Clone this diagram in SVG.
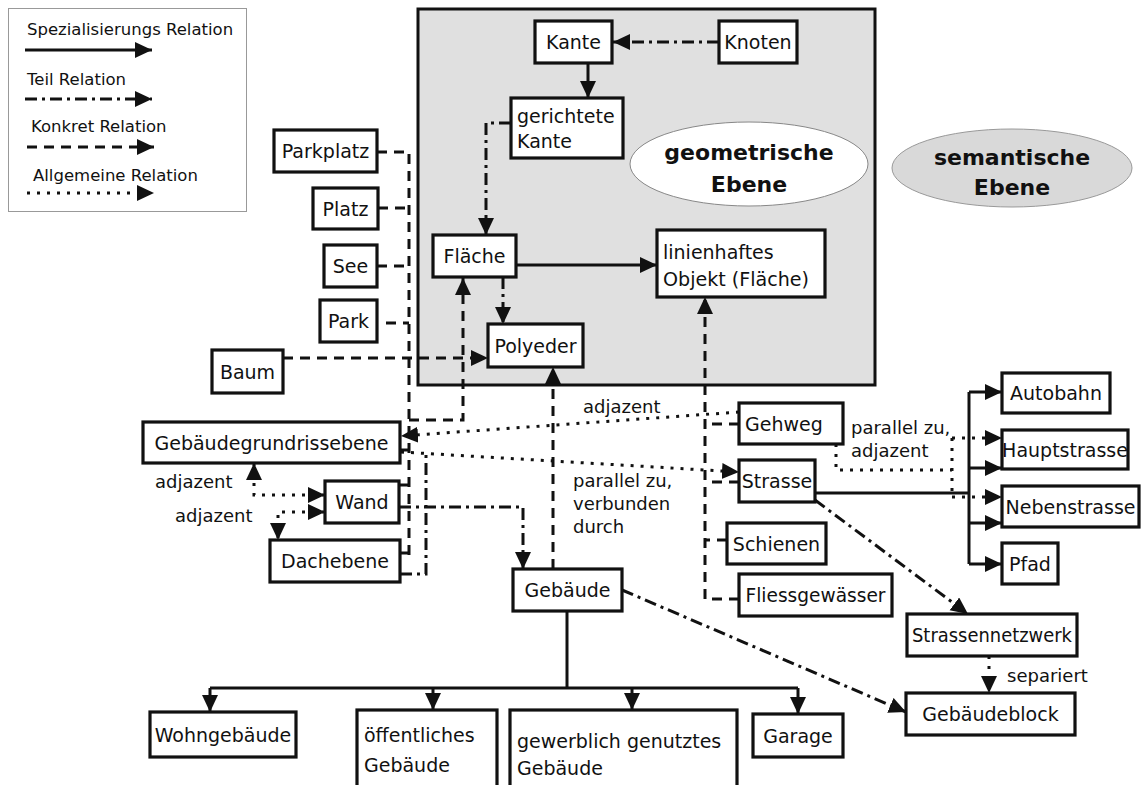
<svg xmlns="http://www.w3.org/2000/svg" width="1141" height="785" viewBox="0 0 1141 785">
  <defs>
    <marker id="ah" markerUnits="userSpaceOnUse" markerWidth="20" markerHeight="18" refX="17" refY="8" orient="auto-start-reverse" viewBox="0 0 20 18">
      <path d="M0,0 L17,8 L0,16 Z" fill="#111"/>
    </marker>
    <style>
      .n rect { fill: #fff; stroke: #111; stroke-width: 3.2; }
      .t { font-family: "DejaVu Sans", "Liberation Sans", sans-serif; font-size: 19px; fill: #111; }
      .lbl { font-family: "DejaVu Sans", "Liberation Sans", sans-serif; font-size: 18px; fill: #111; }
      .leg { font-family: "DejaVu Sans", "Liberation Sans", sans-serif; font-size: 16.5px; fill: #111; }
      .big { font-family: "DejaVu Sans", "Liberation Sans", sans-serif; font-size: 22px; font-weight: bold; fill: #111; text-anchor: middle; }
      .c { text-anchor: middle; }
      .ln { fill: none; stroke: #111; stroke-width: 3; }
      .teil { stroke-dasharray: 12 5 3 5; }
      .konkret { stroke-dasharray: 10 7; }
      .allg { stroke-dasharray: 3 7; }
      .arr { marker-end: url(#ah); }
    </style>
  </defs>

  <rect width="1141" height="785" fill="#fff"/>

  <!-- legend -->
  <g id="legend">
    <rect x="8.5" y="8.5" width="238" height="203" fill="#fff" stroke="#999" stroke-width="1"/>
    <text class="leg" x="27" y="35">Spezialisierungs Relation</text>
    <path class="ln arr" d="M25,50 H152"/>
    <text class="leg" x="27" y="85">Teil Relation</text>
    <path class="ln teil arr" d="M25,99 H152"/>
    <text class="leg" x="31" y="132">Konkret Relation</text>
    <path class="ln konkret arr" d="M27,147 H154"/>
    <text class="leg" x="33" y="181">Allgemeine Relation</text>
    <path class="ln allg arr" d="M27,193 H154"/>
  </g>

  <!-- geometric level frame -->
  <g id="geometrische-ebene">
    <rect x="418" y="9" width="457" height="376" fill="#e0e0e0" stroke="#111" stroke-width="3"/>
    <ellipse cx="749" cy="164" rx="119" ry="42" fill="#fff" stroke="#888" stroke-width="1"/>
    <text class="big" x="749" y="160">geometrische</text>
    <text class="big" x="749" y="192">Ebene</text>
  </g>

  <g id="semantische-ebene">
    <ellipse cx="1012" cy="168" rx="120" ry="39" fill="#d9d9d9" stroke="#999" stroke-width="1"/>
    <text class="big" x="1012" y="165">semantische</text>
    <text class="big" x="1012" y="195">Ebene</text>
  </g>

  <!-- connectors -->
  <g id="connectors">
    <!-- inside the geometric level -->
    <path class="ln teil arr" d="M719,42 H613"/>
    <path class="ln arr" d="M588,63 V98"/>
    <path class="ln teil arr" d="M511,123 H486 V235"/>
    <path class="ln arr" d="M516,265 H657"/>
    <path class="ln teil arr" d="M503,277 V324"/>

    <!-- left concrete bus to Polyeder / Fläche -->
    <path class="ln konkret" d="M377,152 H409 V555"/>
    <path class="ln konkret" d="M378,208 H409"/>
    <path class="ln konkret" d="M377,266 H409"/>
    <path class="ln konkret" d="M386,323 H409"/>
    <path class="ln konkret arr" d="M283,358 H488"/>
    <path class="ln konkret" d="M400,450 H409"/>
    <path class="ln konkret" d="M399,485 H409"/>
    <path class="ln konkret" d="M400,553 H409"/>
    <path class="ln konkret arr" d="M409,420 H463 V278"/>

    <!-- part-of bus to Gebäude -->
    <path class="ln teil" d="M400,574 H426 V452"/>
    <path class="ln teil arr" d="M399,507 H523 V569"/>
    <path class="ln konkret arr" d="M553,569 V367"/>

    <!-- adjacency around Wand -->
    <path class="ln allg arr" style="marker-start:url(#ah)" d="M254,463 V495 H325"/>
    <path class="ln allg arr" style="marker-start:url(#ah)" d="M325,512 H278 V540"/>

    <!-- general relations to the street network -->
    <path class="ln allg arr" d="M739,412 L401,436"/>
    <path class="ln allg arr" d="M401,452 L739,472"/>

    <!-- concrete bus to linienhaftes Objekt -->
    <path class="ln konkret arr" d="M739,599 H705 V297"/>
    <path class="ln konkret" d="M739,424 H705"/>
    <path class="ln konkret" d="M739,482 H705"/>
    <path class="ln konkret" d="M727,540 H705"/>

    <!-- Gehweg parallel/adjacent -->
    <path class="ln allg" d="M836,444 V470 H952"/>
    <path class="ln allg" d="M952,438 V497"/>
    <path class="ln allg arr" d="M952,438 H1002"/>
    <path class="ln allg arr" d="M952,497 H1002"/>

    <!-- Strasse specialisation -->
    <path class="ln" d="M815,493 H969"/>
    <path class="ln" d="M969,392 V564"/>
    <path class="ln arr" d="M969,392 H1002"/>
    <path class="ln arr" d="M969,468 H1002"/>
    <path class="ln arr" d="M969,523 H1002"/>
    <path class="ln arr" d="M969,564 H1002"/>

    <path class="ln teil arr" d="M815,500 L968,614"/>
    <path class="ln allg arr" d="M989,656 V693"/>
    <path class="ln teil arr" d="M622,590 L906,712"/>

    <!-- Gebäude specialisation -->
    <path class="ln" d="M567,611 V688"/>
    <path class="ln" d="M210,688 H798"/>
    <path class="ln arr" d="M210,688 V712"/>
    <path class="ln arr" d="M433,688 V710"/>
    <path class="ln arr" d="M632,688 V710"/>
    <path class="ln arr" d="M798,688 V714"/>

    <!-- connector labels -->
    <text class="lbl" x="583" y="413">adjazent</text>
    <text class="lbl" x="573" y="487">parallel zu,</text>
    <text class="lbl" x="573" y="510">verbunden</text>
    <text class="lbl" x="573" y="533">durch</text>
    <text class="lbl" x="851" y="434">parallel zu,</text>
    <text class="lbl" x="851" y="457">adjazent</text>
    <text class="lbl" x="155" y="488">adjazent</text>
    <text class="lbl" x="175" y="522">adjazent</text>
    <text class="lbl" x="1007" y="682">separiert</text>
  </g>

  <!-- nodes -->
  <g id="kante" class="n"><rect x="535" y="21" width="77" height="42"/><text class="t c" x="573.5" y="49">Kante</text></g>
  <g id="knoten" class="n"><rect x="719" y="21" width="78" height="42"/><text class="t c" x="758" y="49">Knoten</text></g>
  <g id="gerichtete-kante" class="n"><rect x="511" y="98" width="112" height="60"/><text class="t" x="517" y="123">gerichtete</text><text class="t" x="517" y="148">Kante</text></g>
  <g id="flaeche" class="n"><rect x="433" y="235" width="83" height="42"/><text class="t c" x="474.5" y="263">Fläche</text></g>
  <g id="linienhaftes-objekt" class="n"><rect x="657" y="230" width="168" height="67"/><text class="t" x="663" y="259">linienhaftes</text><text class="t" x="663" y="286" textLength="146" lengthAdjust="spacingAndGlyphs">Objekt (Fläche)</text></g>
  <g id="polyeder" class="n"><rect x="488" y="324" width="95" height="43"/><text class="t c" x="535.5" y="352.5">Polyeder</text></g>

  <g id="parkplatz" class="n"><rect x="274" y="130" width="103" height="42"/><text class="t c" x="325.5" y="158">Parkplatz</text></g>
  <g id="platz" class="n"><rect x="313" y="188" width="65" height="41"/><text class="t c" x="345.5" y="215.5">Platz</text></g>
  <g id="see" class="n"><rect x="324" y="245" width="53" height="42"/><text class="t c" x="350.5" y="273">See</text></g>
  <g id="park" class="n"><rect x="320" y="300" width="57" height="42"/><text class="t c" x="348.5" y="328">Park</text></g>
  <g id="baum" class="n"><rect x="212" y="350" width="71" height="43"/><text class="t c" x="247.5" y="378.5">Baum</text></g>

  <g id="gebaeudegrundrissebene" class="n"><rect x="143" y="422" width="257" height="41"/><text class="t c" x="271.5" y="449.5">Gebäudegrundrissebene</text></g>
  <g id="wand" class="n"><rect x="325" y="481" width="74" height="42"/><text class="t c" x="362" y="509">Wand</text></g>
  <g id="dachebene" class="n"><rect x="270" y="540" width="130" height="42"/><text class="t c" x="335" y="568">Dachebene</text></g>
  <g id="gebaeude" class="n"><rect x="513" y="569" width="109" height="42"/><text class="t c" x="567.5" y="597">Gebäude</text></g>

  <g id="gehweg" class="n"><rect x="739" y="403" width="104" height="41"/><text class="t" x="745" y="430.5">Gehweg</text></g>
  <g id="strasse" class="n"><rect x="739" y="460" width="76" height="42"/><text class="t c" x="777" y="488">Strasse</text></g>
  <g id="schienen" class="n"><rect x="727" y="523" width="99" height="41"/><text class="t c" x="776.5" y="550.5">Schienen</text></g>
  <g id="fliessgewaesser" class="n"><rect x="739" y="574" width="153" height="42"/><text class="t c" x="815.5" y="602" textLength="140" lengthAdjust="spacingAndGlyphs">Fliessgewässer</text></g>

  <g id="autobahn" class="n"><rect x="1002" y="373" width="108" height="40"/><text class="t c" x="1056" y="400">Autobahn</text></g>
  <g id="hauptstrasse" class="n"><rect x="1002" y="430" width="126" height="39"/><text class="t c" x="1065" y="456.5">Hauptstrasse</text></g>
  <g id="nebenstrasse" class="n"><rect x="1002" y="486" width="137" height="41"/><text class="t c" x="1070.5" y="513.5">Nebenstrasse</text></g>
  <g id="pfad" class="n"><rect x="1002" y="543" width="56" height="41"/><text class="t c" x="1030" y="570.5">Pfad</text></g>

  <g id="strassennetzwerk" class="n"><rect x="907" y="614" width="170" height="42"/><text class="t c" x="992" y="642" textLength="160" lengthAdjust="spacingAndGlyphs">Strassennetzwerk</text></g>
  <g id="gebaeudeblock" class="n"><rect x="906" y="693" width="169" height="42"/><text class="t c" x="990.5" y="721">Gebäudeblock</text></g>

  <g id="wohngebaeude" class="n"><rect x="150" y="712" width="146" height="45"/><text class="t c" x="223" y="741.5">Wohngebäude</text></g>
  <g id="oeffentliches-gebaeude" class="n"><rect x="357" y="710" width="140" height="82"/><text class="t" x="364" y="742">öffentliches</text><text class="t" x="364" y="772">Gebäude</text></g>
  <g id="gewerbliches-gebaeude" class="n"><rect x="510" y="710" width="227" height="82"/><text class="t" x="517" y="748">gewerblich genutztes</text><text class="t" x="517" y="775">Gebäude</text></g>
  <g id="garage" class="n"><rect x="753" y="714" width="90" height="43"/><text class="t c" x="798" y="742.5">Garage</text></g>
</svg>
